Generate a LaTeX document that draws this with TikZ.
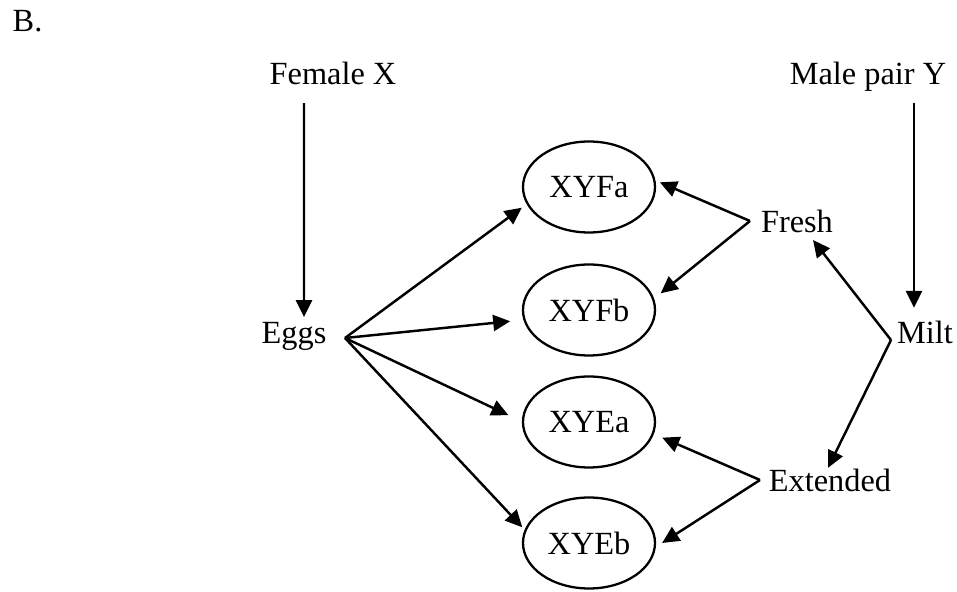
\documentclass[tikz,border=0pt]{standalone}
\usepackage{fontspec}
\setmainfont{Liberation Serif}
\usetikzlibrary{shapes,arrows.meta,positioning}

\begin{document}
\begin{tikzpicture}[
    lbl/.style={font=\fontsize{9.2}{11}\selectfont, inner sep=0.05cm},
    group/.style={draw, ellipse, line width=0.65pt, minimum width=1.32cm, minimum height=0.91cm, inner sep=0pt, font=\fontsize{9.2}{11}\selectfont},
    line/.style={draw, line width=0.7pt, -{Triangle[length=0.17cm,width=0.16cm]}}
]
\useasboundingbox (0,0) rectangle (9.57,-5.92);

\node[lbl, anchor=base west] (panel) at (0.07,-0.32) {B.};
\node[lbl, anchor=base] (femalex) at (3.33,-0.85) {Female X};
\node[lbl, anchor=base] (malepair) at (8.68,-0.85) {Male pair Y};
\node[lbl, anchor=base] (eggs) at (2.94,-3.44) {Eggs};
\node[lbl, anchor=base] (milt) at (9.25,-3.44) {Milt};
\node[lbl, anchor=base] (fresh) at (7.97,-2.33) {Fresh};
\node[lbl, anchor=base] (extended) at (8.30,-4.92) {Extended};

\node[group] (xyfa) at (5.89,-1.87) {XYFa};
\node[group] (xyfb) at (5.89,-3.10) {XYFb};
\node[group] (xyea) at (5.89,-4.22) {XYEa};
\node[group] (xyeb) at (5.89,-5.43) {XYEb};

% branching points
\coordinate (eggsPt) at (3.45,-3.38);
\coordinate (freshPt) at (7.50,-2.21);
\coordinate (miltPt) at (8.91,-3.40);
\coordinate (extPt) at (7.60,-4.80);

\draw[line, shorten <=0.12cm] ([xshift=-0.29cm]femalex.south) -- ([xshift=0.10cm]eggs.north);
\draw[line, shorten <=0.05cm, shorten >=0.08cm] ([xshift=0.46cm]malepair.south) -- ([xshift=-0.11cm]milt.north);

\draw[line] (eggsPt) -- ([shift={(-0.07,0)}]xyfa.199);
\draw[line] (eggsPt) -- ([shift={(-0.13,-0.02)}]xyfb.188);
\draw[line] (eggsPt) -- ([shift={(-0.14,0.01)}]xyea.175);
\draw[line] (eggsPt) -- ([shift={(-0.03,0.01)}]xyeb.167);

\draw[line] (freshPt) -- ([shift={(0.04,0)}]xyfa.4);
\draw[line] (freshPt) -- ([shift={(0.08,0.02)}]xyfb.13);
\draw[line] (extPt) -- ([shift={(0.09,-0.02)}]xyea.-12);
\draw[line] (extPt) -- ([shift={(0.06,0)}]xyeb.east);

\draw[line] (miltPt) -- ([xshift=0.16cm,yshift=-0.01cm]fresh.south);
\draw[line] (miltPt) -- ([xshift=-0.02cm,yshift=-0.04cm]extended.north);

\end{tikzpicture}
\end{document}
